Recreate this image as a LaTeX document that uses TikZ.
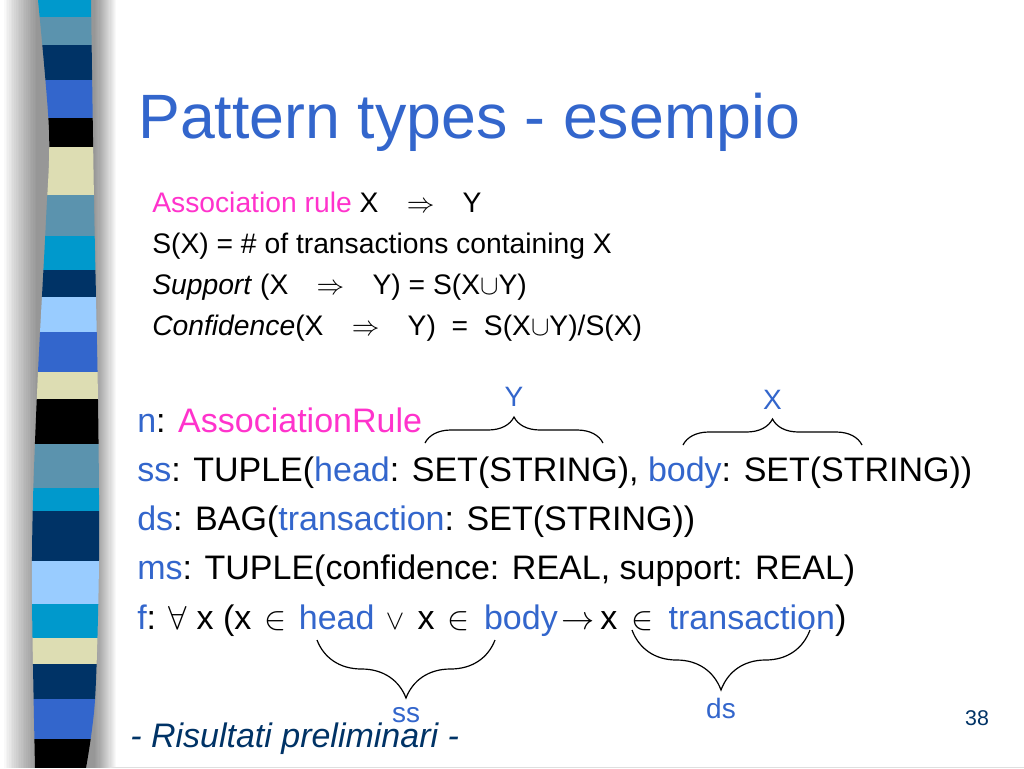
\documentclass[tikz,border=0pt]{standalone}
\usepackage{fontspec}
\setmainfont{Liberation Sans}
\usetikzlibrary{decorations.pathreplacing}
\definecolor{titleblue}{HTML}{3366CC}
\definecolor{rosa}{HTML}{FF33CC}
\definecolor{navy}{HTML}{003366}
\definecolor{scyan}{HTML}{0099CC}
\definecolor{ssteel}{HTML}{5B93AE}
\definecolor{sroyal}{HTML}{3366CC}
\definecolor{scream}{HTML}{DDDDB3}
\definecolor{slight}{HTML}{99CCFF}
\newcommand{\bl}[1]{\textcolor{titleblue}{#1}}
\newcommand{\smin}[2]{\hspace{#1}{\fontsize{23}{23}\selectfont$\in$}\hspace{#2}}
\newcommand{\smor}{{\fontsize{20}{20}\selectfont$\vee$}}

\begin{document}
\begin{tikzpicture}[x=0.75pt,y=-0.75pt,
				T/.style = {anchor=base west, inner sep=0pt, text=titleblue,
					font=\fontsize{47}{56}\selectfont},
				L1/.style = {anchor=base west, inner sep=0pt,
					font=\fontsize{21.2}{25}\selectfont},
				L2/.style = {anchor=base west, inner sep=0pt,
					font=\fontsize{25.5}{30}\selectfont},
				lab/.style = {inner sep=0pt, text=titleblue,
					font=\fontsize{21}{25}\selectfont},
				B/.style = {decorate,
					decoration={brace, amplitude=19.5pt, #1},
					line width=0.9pt},
				B/.default= {},
				]
				\useasboundingbox (0,0) rectangle (1024,768);
				\fill[white] (0,0) rectangle (1024,768);
				% shadow of the strip
				\foreach \w in {2,4,...,40}
				\fill[black, opacity=0.022] (38-0.85*\w,0) rectangle (94+0.55*\w,768);
				\begin{scope}
					\clip plot[smooth] coordinates {(38,0) (49,130) (46,220) (38,372) (33,500) (32,600) (35,768)}
					-- plot[smooth] coordinates {(86,768) (95,700) (99,560) (98,400) (94,200) (91,0)} -- cycle;
					\foreach \a/\b/\c in {0/17/scyan, 17/45/ssteel, 45/80/navy, 80/118/sroyal,
						118/147/black, 147/195/scream, 195/236/ssteel, 236/270/scyan,
						270/297/navy, 297/332/slight, 332/372/sroyal, 372/399/scream,
						399/444/black, 444/488/ssteel, 488/511/scyan, 511/561/navy,
						561/604/slight, 604/638/scyan, 638/664/scream, 664/699/navy,
						699/739/sroyal, 739/768/black}% <-- stripes of the bar
					\fill[\c] (20,\a) rectangle (110,\b);
				\end{scope}
				\draw[gray!25] (110,767) -- (1024,767);
				\node[T] (title) at (138,138) {Pattern types - esempio};
				\node[L1] (r1) at (152,212) {\textcolor{rosa}{Association rule} X\quad$\Rightarrow$\quad Y};
				\node[L1] (r2) at (152,253) {S(X) = \# of transactions containing X};
				\node[L1] (r3) at (152,294) {\textit{Support} (X\quad$\Rightarrow$\quad Y) = S(X$\cup$Y)};
				\node[L1] (r4) at (152,335) {\textit{Confidence}(X\quad$\Rightarrow$\quad Y)\ \ =\ \ S(X$\cup$Y)/S(X)};
				\node[L2] (n) at (137,432) {\bl{n}: \textcolor{rosa}{AssociationRule}};
				\node[L2] (ss) at (137,481) {\bl{ss}: TUPLE(\bl{head}: SET(STRING), \bl{body}: SET(STRING))};
				\node[L2] (ds) at (137,530) {\bl{ds}: BAG(\bl{transaction}: SET(STRING))};
				\node[L2] (ms) at (137,579) {\bl{ms}: TUPLE(confidence: REAL, support: REAL)};
				\node[L2] (f) at (137,629) {\bl{f}: $\forall$ x (x\smin{9.5pt}{9.5pt}\bl{head}\hspace{8.5pt}\smor\hspace{10pt}x\smin{9.5pt}{11pt}\bl{body}\hspace{3pt}$\rightarrow$\hspace{4pt}x\smin{11pt}{11pt}\bl{transaction})};
				\node[L2, text=navy, font=\fontsize{25.5}{30}\selectfont\itshape] (foot) at (130,747) {- Risultati preliminari -};
				\node[inner sep=0pt, text=navy, font=\fontsize{16}{19}\selectfont] (num) at (977,718) {38};
				% braces
				\coordinate (yl) at (425,443); \coordinate (yr) at (603,443);
				\coordinate (xl) at (683,445); \coordinate (xr) at (862,445);
				\coordinate (sl) at (317,640); \coordinate (sr) at (495,640);
				\coordinate (dl) at (632,630); \coordinate (dr) at (810,630);
				\draw[B] (yl) -- node[lab, above=27pt] {Y} (yr);
				\draw[B] (xl) -- node[lab, above=26pt] {X} (xr);
				\draw[B={mirror, amplitude=43.5pt}] (sl) -- node[lab, below=50pt] {ss} (sr);
				\draw[B={mirror, amplitude=45pt}] (dl) -- node[lab, below=51pt] {ds} (dr);
			\end{tikzpicture}
\end{document}
